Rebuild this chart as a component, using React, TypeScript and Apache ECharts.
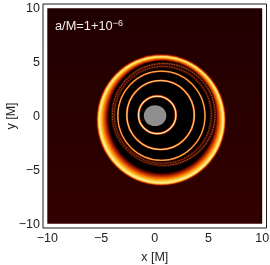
import React, { useEffect, useRef } from "react";
import * as echarts from "echarts";

const tickValues = [-10, -5, 0, 5, 10];
const xName = "x [M]";
const yName = "y [M]";
const imageExtent = [-10, -10, 10, 10];

// [cx, cy, rx, ry] filled, back to front: outer bright ring with its inward glow
const glowLayers = [
  [0.6, -0.37, 6.04, 6.12],
  [0.6, -0.37, 5.99, 6.07],
  [0.6, -0.37, 5.95, 6.03],
  [0.6, -0.37, 5.91, 5.99],
  [0.6, -0.37, 5.87, 5.95],
  [0.6, -0.37, 5.83, 5.91],
  [0.6, -0.36, 5.78, 5.86],
  [0.606, -0.339, 5.716, 5.807],
  [0.613, -0.318, 5.652, 5.754],
  [0.62, -0.295, 5.58, 5.695],
  [0.627, -0.272, 5.508, 5.636],
  [0.634, -0.248, 5.436, 5.576],
  [0.642, -0.225, 5.364, 5.517],
  [0.649, -0.201, 5.292, 5.457],
  [0.656, -0.178, 5.22, 5.398],
  [0.662, -0.157, 5.156, 5.345],
  [0.669, -0.136, 5.092, 5.292],
  [0.674, -0.118, 5.036, 5.246],
  [0.68, -0.1, 4.98, 5.2],
];
const glowColors = [
  "#5a0800", "#9a1800", "#d84e00", "#f89010", "#ffc840", "#ffe470",
  "#fff0a8", "#ffe070", "#ffc838", "#ffa818", "#ff8a08", "#f06a00",
  "#d84c00", "#bc3400", "#a02000", "#801000", "#5c0400", "#2c0000", "#000000",
];

// [cx, cy, rx, ry] stroked rings
const noisyRings = [
  [0.84, 0.15, 4.78, 4.72],
  [0.75, 0.1, 4.52, 4.5],
];
const noisyColors = ["#b85a24", "#983e14"];
const rings = [
  [0.62, 0.02, 4.06, 4.14],
  [0.54, 0.09, 3.14, 3.2],
  [0.23, 0.1, 1.74, 1.74],
];
const ringWeights = [0.8, 1, 1.2];
const ringCores = ["#ffcc80", "#ffe4a8", "#fff0c8"];
const disc = [0.03, 0.03, 1.05, 0.97];
const annotation = "a/M=1+10";
const annotationExp = "−6";

export default function App() {
  const ref = useRef<HTMLDivElement>(null);
  useEffect(() => {
    document.body.style.margin = "0";
    const chart = echarts.init(ref.current!, undefined, { renderer: "svg" });
    const font = "'Liberation Sans', Arial, sans-serif";
    const ell = (api: any, r: number[], style: any) => {
      const c = api.coord([r[0], r[1]]);
      const s = api.size([r[2], r[3]]);
      return { type: "ellipse", shape: { cx: c[0], cy: c[1], rx: s[0], ry: s[1] }, style };
    };
    const axis = (name: string, gap: number) => ({
      type: "value",
      min: -10.4,
      max: 10.4,
      name,
      nameLocation: "middle",
      nameGap: gap,
      nameMoveOverlap: false,
      nameTextStyle: { color: "#222", fontSize: 12.5, fontFamily: font },
      axisLine: { show: false },
      axisTick: { show: false },
      splitLine: { show: false },
      axisLabel: {
        customValues: tickValues,
        color: "#222",
        fontSize: 12.5,
        fontFamily: font,
        margin: 3,
        formatter: (v: number) => String(v).replace("-", "−"),
      },
    });
    chart.setOption({
      animation: false,
      grid: { left: 43, top: 4, width: 223.5, height: 224, outerBoundsMode: "none", containLabel: false, show: true, borderColor: "#1c1c1c", borderWidth: 1, backgroundColor: "#fff" },
      xAxis: axis(xName, 22),
      yAxis: axis(yName, 26),
      series: [
        {
          type: "custom",
          coordinateSystem: "cartesian2d",
          silent: true,
          clip: false,
          data: [imageExtent],
          renderItem: (_p: any, api: any) => {
            const a = api.coord([api.value(0), api.value(3)]);
            const b = api.coord([api.value(2), api.value(1)]);
            return {
              type: "rect",
              shape: { x: a[0], y: a[1], width: b[0] - a[0], height: b[1] - a[1] },
              style: {
                fill: new echarts.graphic.LinearGradient(0, 0, 0, 1, [
                  { offset: 0, color: "#210000" },
                  { offset: 1, color: "#320000" },
                ]),
              },
            };
          },
        },
        {
          type: "custom",
          coordinateSystem: "cartesian2d",
          silent: true,
          data: glowLayers,
          renderItem: (p: any, api: any) =>
            ell(api, [api.value(0), api.value(1), api.value(2), api.value(3)], { fill: glowColors[p.dataIndex] }),
        },
        {
          type: "custom",
          coordinateSystem: "cartesian2d",
          silent: true,
          data: noisyRings,
          renderItem: (p: any, api: any) => {
            const r = [api.value(0), api.value(1), api.value(2), api.value(3)];
            return {
              type: "group",
              children: [
                ell(api, r, { fill: "none", stroke: "#3e0a00", lineWidth: 3 }),
                ell(api, r, { fill: "none", stroke: noisyColors[p.dataIndex], lineWidth: 1, lineDash: [1.5, 1] }),
              ],
            };
          },
        },
        {
          type: "custom",
          coordinateSystem: "cartesian2d",
          silent: true,
          data: rings,
          renderItem: (p: any, api: any) => {
            const r = [api.value(0), api.value(1), api.value(2), api.value(3)];
            const w = ringWeights[p.dataIndex];
            return {
              type: "group",
              children: [
                ell(api, r, { fill: "none", stroke: "#6a1000", lineWidth: 2.4 * w }),
                ell(api, r, { fill: "none", stroke: "#e86c00", lineWidth: 1.6 * w }),
                ell(api, r, { fill: "none", stroke: ringCores[p.dataIndex], lineWidth: 0.9 * w }),
              ],
            };
          },
        },
        {
          type: "custom",
          coordinateSystem: "cartesian2d",
          silent: true,
          data: [disc],
          renderItem: (_p: any, api: any) =>
            ell(api, [api.value(0), api.value(1), api.value(2), api.value(3)], { fill: "#8e8e8e" }),
        },
      ],
      graphic: [
        {
          type: "text",
          left: 55,
          top: 18,
          z: 100,
          silent: true,
          style: {
            text: `{b|${annotation}}{s|${annotationExp}}`,
            rich: {
              b: { fill: "#f2eeee", fontSize: 12.8, fontFamily: font, verticalAlign: "bottom" },
              s: { fill: "#f2eeee", fontSize: 9, fontFamily: font, verticalAlign: "top", padding: [0, 0, 5, 0] },
            },
          },
        },
      ],
    });
    return () => chart.dispose();
  }, []);
  return (
    <div
      ref={ref}
      style={{ position: "absolute", left: 0, top: 0, width: 270, height: 265, filter: "blur(0.5px)" }}
    />
  );
}
